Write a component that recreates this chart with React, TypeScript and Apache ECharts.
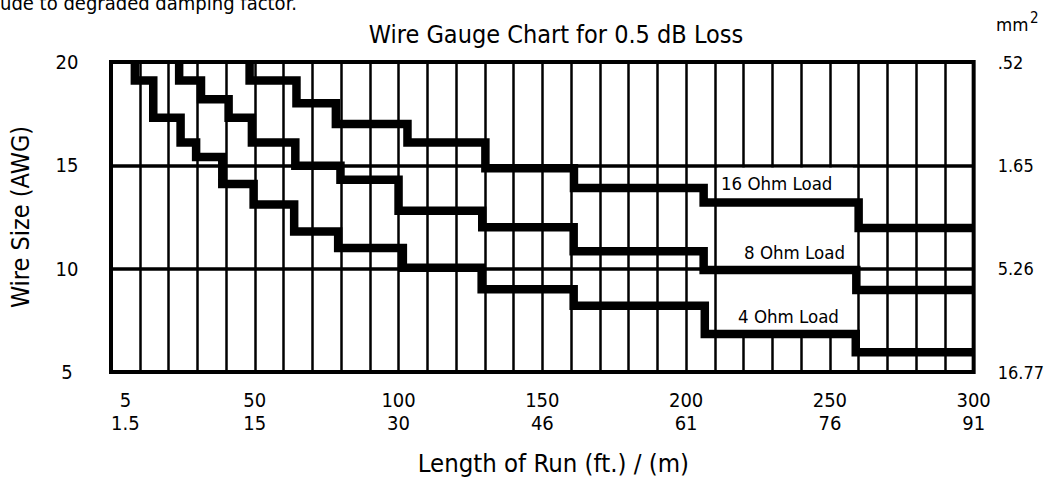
import React, { useEffect, useRef } from 'react';
import * as echarts from 'echarts';

const FONT = "'DejaVu Sans Condensed', 'DejaVu Sans', sans-serif";

const chartTitle = 'Wire Gauge Chart for 0.5 dB Loss';
const xAxisTitle = 'Length of Run (ft.) / (m)';
const yAxisTitle = 'Wire Size (AWG)';
const rightAxisUnit = 'mm';
const rightAxisUnitPower = '2';
const clippedNote = 'ude to degraded damping factor.';

const lengthFeetTicks = [5, 50, 100, 150, 200, 250, 300];
const lengthMetreTicks = ['1.5', '15', '30', '46', '61', '76', '91'];
const awgTicks = [5, 10, 15, 20];
const mm2Ticks = ['16.77', '5.26', '1.65', '.52'];

const loadNames = ['4 Ohm Load', '8 Ohm Load', '16 Ohm Load'];

// Each curve: run length (ft) where a step begins (last = chart end) and the AWG level reached
const load4StepFeet = [8.3, 14.7, 24.2, 29.6, 38.7, 49.6, 63.7, 79.0, 101.5, 128.9, 160.9, 206.5, 259.0, 300];
const load4StepAwg = [20, 19.1, 17.3, 16.1, 15.4, 14.1, 13.1, 11.8, 11.0, 10.05, 9.0, 8.2, 6.84, 5.95];

const load8StepFeet = [23.7, 31.3, 40.9, 49.0, 64.1, 79.8, 100.0, 129.1, 160.9, 206.1, 259.2, 300];
const load8StepAwg = [20, 19.1, 18.2, 17.3, 16.1, 14.98, 14.3, 12.8, 12.0, 10.84, 9.94, 8.97];

const load16StepFeet = [48.2, 64.5, 78.2, 103.1, 130.2, 161.0, 206.1, 260.0, 300];
const load16StepAwg = [20, 19.1, 18.0, 17.0, 16.1, 14.86, 13.9, 13.2, 11.97];

const toPoints = (feet: number[], awg: number[]) => feet.map((f, i) => [f, awg[i]]);

export default function App() {
  const ref = useRef<HTMLDivElement>(null);

  useEffect(() => {
    if (!ref.current) return;
    const chart = echarts.init(ref.current, null, { renderer: 'svg' });

    const curve = (name: string, feet: number[], awg: number[], extra: any = {}) => ({
      type: 'line',
      name,
      data: toPoints(feet, awg),
      step: 'start',
      symbol: 'none',
      showSymbol: false,
      silent: true,
      z: 3,
      lineStyle: { color: '#000', width: 8.5, cap: 'butt', join: 'miter' },
      ...extra,
    });

    chart.setOption({
      animation: false,
      backgroundColor: '#fff',
      textStyle: { fontFamily: FONT, color: '#000' },
      grid: {
        left: 111,
        right: 62,
        top: 62,
        bottom: 117,
        show: true,
        borderColor: '#000',
        borderWidth: 4,
        backgroundColor: 'transparent',
      },
      xAxis: {
        type: 'value',
        min: 0,
        max: 300,
        interval: 10,
        name: xAxisTitle,
        nameLocation: 'middle',
        nameGap: 78,
        nameTextStyle: { fontFamily: FONT, fontSize: 25.5, color: '#000', padding: [0, 0, 0, 22] },
        axisLine: { show: false },
        axisTick: { show: false },
        splitLine: { show: true, lineStyle: { color: '#000', width: 2.5 } },
        axisLabel: {
          customValues: lengthFeetTicks,
          margin: 16,
          fontFamily: FONT,
          fontSize: 20,
          lineHeight: 23,
          color: '#000',
          align: 'center',
          formatter: (v: number) => {
            const i = lengthFeetTicks.indexOf(v);
            return i >= 0 ? `${v}\n${lengthMetreTicks[i]}` : '';
          },
        },
      },
      yAxis: [
        {
          type: 'value',
          min: 5,
          max: 20,
          interval: 5,
          position: 'left',
          name: yAxisTitle,
          nameLocation: 'middle',
          nameGap: 78,
          nameTextStyle: { fontFamily: FONT, fontSize: 25, color: '#000' },
          axisLine: { show: false },
          axisTick: { show: false },
          splitLine: { show: true, lineStyle: { color: '#000', width: 3.5 } },
          axisLabel: {
            margin: 44,
            align: 'center',
            fontFamily: FONT,
            fontSize: 20,
            color: '#000',
          },
        },
        {
          type: 'value',
          min: 5,
          max: 20,
          interval: 5,
          position: 'right',
          axisLine: { show: false },
          axisTick: { show: false },
          splitLine: { show: false },
          axisLabel: {
            margin: 24,
            align: 'left',
            fontFamily: FONT,
            fontSize: 18,
            color: '#000',
            formatter: (v: number) => {
              const i = awgTicks.indexOf(v);
              return i >= 0 ? mm2Ticks[i] : '';
            },
          },
        },
      ],
      graphic: [
        {
          type: 'text',
          x: 556,
          y: 22,
          style: { text: chartTitle, fontFamily: FONT, fontSize: 25, fill: '#000', align: 'center', textAlign: 'center' },
        },
        {
          type: 'text',
          x: 0,
          y: 13,
          style: { text: clippedNote, fontFamily: FONT, fontSize: 20, fill: '#000', verticalAlign: 'bottom', textVerticalAlign: 'bottom' },
        },
        {
          type: 'text',
          x: 996,
          y: 15,
          style: { text: rightAxisUnit, fontFamily: FONT, fontSize: 18.5, fill: '#000' },
        },
        {
          type: 'text',
          x: 1030,
          y: 10,
          style: { text: rightAxisUnitPower, fontFamily: FONT, fontSize: 15, fill: '#000' },
        },
      ],
      series: [
        curve(loadNames[0], load4StepFeet, load4StepAwg, {
          markArea: {
            silent: true,
            itemStyle: { color: '#fff' },
            data: [[{ xAxis: 211, yAxis: 14.88 }, { xAxis: 258, yAxis: 6.9 }]],
          },
          markPoint: {
            silent: true,
            symbol: 'rect',
            symbolSize: 1,
            itemStyle: { color: 'rgba(0,0,0,0)' },
            label: { show: true, position: 'inside', formatter: '{b}', color: '#000', fontFamily: FONT, fontSize: 18.5 },
            data: [
              { name: loadNames[2], coord: [231.5, 14.1] },
              { name: loadNames[1], coord: [237.7, 10.77] },
              { name: loadNames[0], coord: [235.6, 7.7] },
            ],
          },
        }),
        curve(loadNames[1], load8StepFeet, load8StepAwg),
        curve(loadNames[2], load16StepFeet, load16StepAwg),
      ],
    });

    return () => chart.dispose();
  }, []);

  return (
    <div
      ref={ref}
      style={{ position: 'fixed', left: 0, top: 0, width: 1047, height: 489, background: '#fff' }}
    />
  );
}
